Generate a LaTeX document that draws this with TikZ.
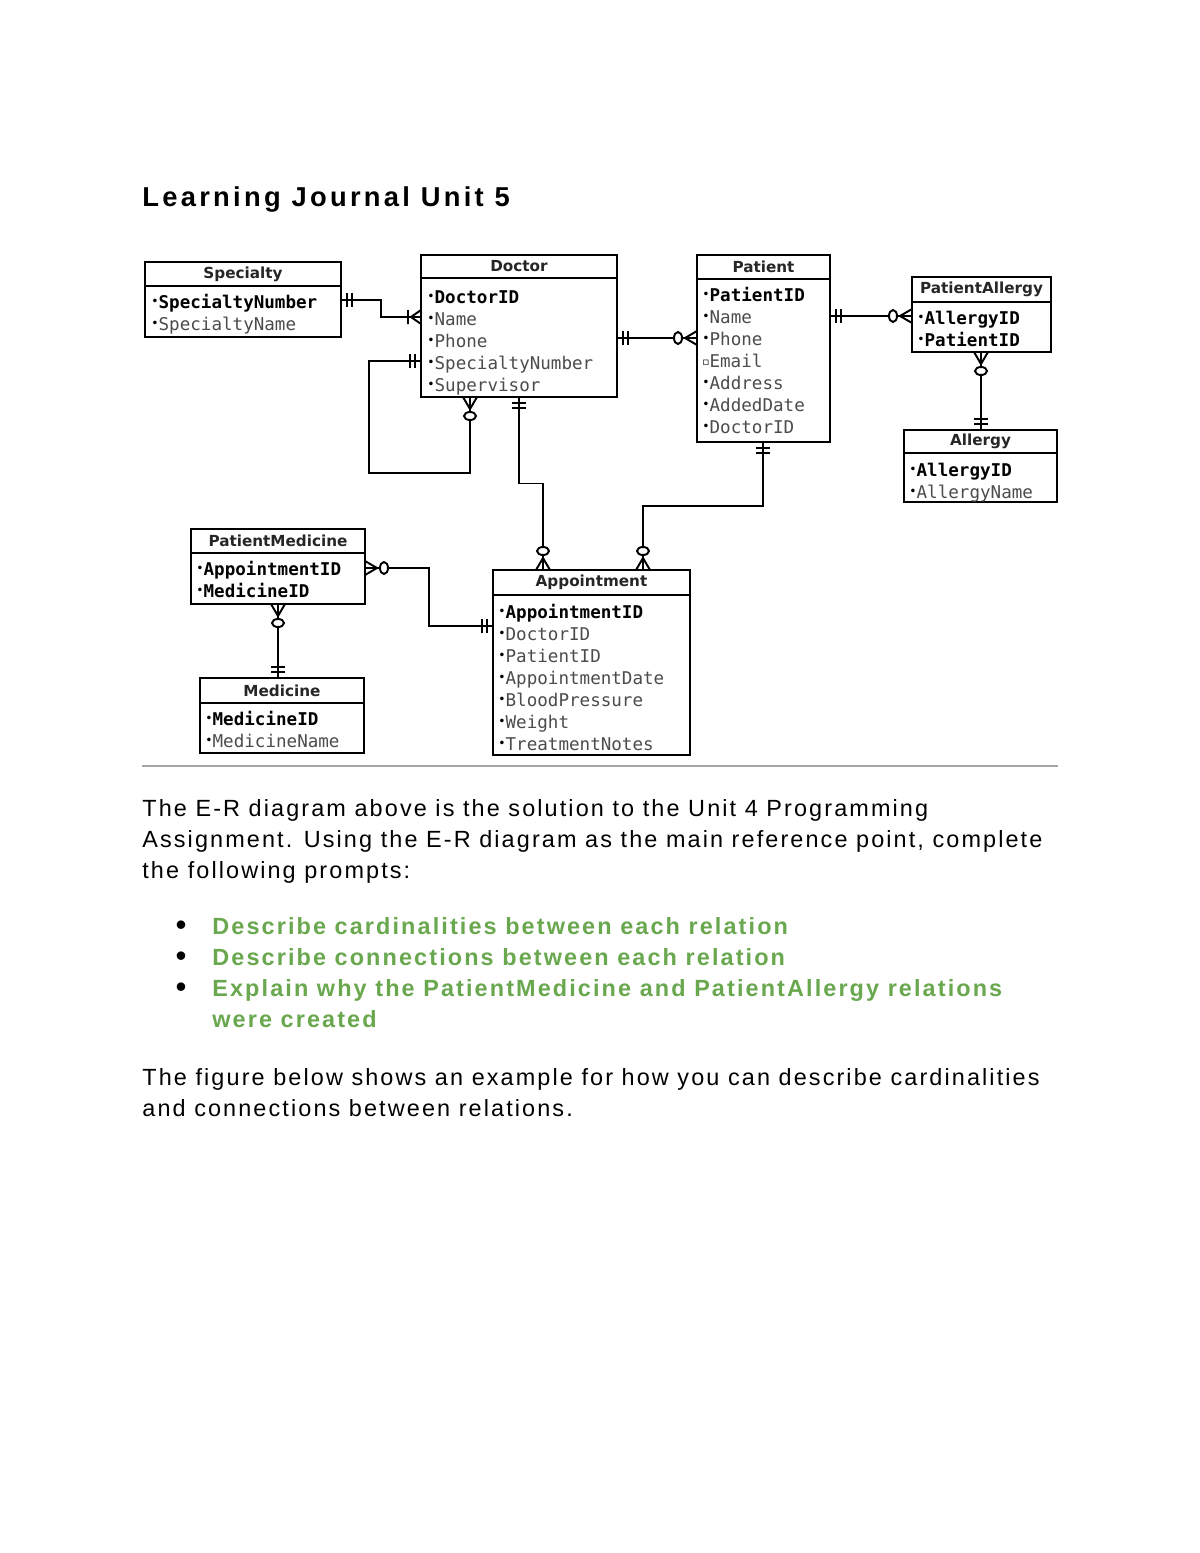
\documentclass[tikz,border=0pt]{standalone}
\usepackage{fontspec}
\setmainfont{Liberation Sans}
\newfontfamily\attrfont{DejaVu Sans Mono}
\newfontfamily\headfont{DejaVu Sans}
\usepackage{xcolor}
\usetikzlibrary{positioning, calc}

\definecolor{taskgreen}{HTML}{6AA84F}
\newcommand{\px}{0.018cm}
\newcommand{\kb}{\raisebox{.3ex}{\scalebox{.7}{\headfont •}}}
\newcommand{\ob}{\raisebox{.25ex}{\scalebox{.6}{\headfont ▫}}}
\newcommand{\erkey}[1]{\kb\textbf{#1}}
\newcommand{\erattr}[1]{\kb{\color{black!70}#1}}

\begin{document}
\begin{tikzpicture}[x=\px, y=-\px,
  ehead/.style={draw, line width=1.2pt, anchor=north west, inner sep=0pt, outer sep=0pt, minimum height=24*\px, font=\headfont\bfseries\fontsize{7.8}{9}\selectfont, text=black!85},
  ebody/.style={draw, line width=1.2pt, anchor=north west, inner sep=0pt, outer sep=0pt},
  eattr/.style={anchor=north west, inner sep=0pt, align=left, font=\attrfont\fontsize{9}{11.25}\selectfont},
  rel/.style={line width=1pt},
  para/.style={anchor=north west, inner sep=0pt, align=left, font=\fontsize{12}{15.9}\selectfont\addfontfeatures{LetterSpace=9}},
  task/.style={para, font=\bfseries\fontsize{12}{15.9}\selectfont\addfontfeatures{LetterSpace=9}, text=taskgreen},
  bul/.style={anchor=base, inner sep=0pt, font=\fontsize{16}{15.9}\selectfont},
  mkone/.pic={\draw[rel] (6,-7) -- (6,7) (11,-7) -- (11,7);},
  mkonemany/.pic={\draw[rel] (0,-7) -- (10,0) -- (0,7) (13,-7) -- (13,7);},
  mkzeromany/.pic={\draw[rel] (0,-7) -- (12,0) -- (0,7); \draw[rel, fill=white] (19,0) ellipse [x radius=4, y radius=6];}
]
  \path[use as bounding box, fill=white] (0,0) rectangle (1200,1553);

  % heading
  \node[anchor=base west, inner sep=0pt, font=\bfseries\fontsize{14}{17}\selectfont\addfontfeatures{LetterSpace=12}] (title) at (142,206) {Learning Journal Unit 5};

  % entities
  \node[ehead, minimum width=196*\px] (spech) at (145,262) {Specialty};
  \node[ebody, minimum width=196*\px, minimum height=51*\px] (specb) at (spech.south west) {};
  \node[eattr] (speca) at ($(specb.north west)+(6,8)$) {\erkey{SpecialtyNumber}\\\erattr{SpecialtyName}};

  \node[ehead, minimum width=196*\px, minimum height=23*\px] (doch) at (421,255) {Doctor};
  \node[ebody, minimum width=196*\px, minimum height=119*\px] (docb) at (doch.south west) {};
  \node[eattr] (doca) at ($(docb.north west)+(6,12)$) {\erkey{DoctorID}\\\erattr{Name}\\\erattr{Phone}\\\erattr{SpecialtyNumber}\\\erattr{Supervisor}};

  \node[ehead, minimum width=133*\px] (path) at (697,255) {Patient};
  \node[ebody, minimum width=133*\px, minimum height=163*\px] (patb) at (path.south west) {};
  \node[eattr] (pata) at ($(patb.north west)+(5,8)$) {\erkey{PatientID}\\\erattr{Name}\\\erattr{Phone}\\\ob{\color{black!70}Email}\\\erattr{Address}\\\erattr{AddedDate}\\\erattr{DoctorID}};

  \node[ehead, minimum width=139*\px, minimum height=25*\px] (pah) at (912,277) {PatientAllergy};
  \node[ebody, minimum width=139*\px, minimum height=50*\px] (pab) at (pah.south west) {};
  \node[eattr] (paa) at ($(pab.north west)+(5,9)$) {\erkey{AllergyID}\\\erkey{PatientID}};

  \node[ehead, minimum width=153*\px, minimum height=23*\px] (alh) at (904,430) {Allergy};
  \node[ebody, minimum width=153*\px, minimum height=49*\px] (alb) at (alh.south west) {};
  \node[eattr] (ala) at ($(alb.north west)+(5,10)$) {\erkey{AllergyID}\\\erattr{AllergyName}};

  \node[ehead, minimum width=174*\px] (pmh) at (191,529) {PatientMedicine};
  \node[ebody, minimum width=174*\px, minimum height=51*\px] (pmb) at (pmh.south west) {};
  \node[eattr] (pma) at ($(pmb.north west)+(5,8)$) {\erkey{AppointmentID}\\\erkey{MedicineID}};

  \node[ehead, minimum width=164*\px, minimum height=25*\px] (medh) at (200,678) {Medicine};
  \node[ebody, minimum width=164*\px, minimum height=50*\px] (medb) at (medh.south west) {};
  \node[eattr] (meda) at ($(medb.north west)+(5,8)$) {\erkey{MedicineID}\\\erattr{MedicineName}};

  \node[ehead, minimum width=197*\px, minimum height=25*\px] (apph) at (493,570) {Appointment};
  \node[ebody, minimum width=197*\px, minimum height=160*\px] (appb) at (apph.south west) {};
  \node[eattr] (appa) at ($(appb.north west)+(5,9)$) {\erkey{AppointmentID}\\\erattr{DoctorID}\\\erattr{PatientID}\\\erattr{AppointmentDate}\\\erattr{BloodPressure}\\\erattr{Weight}\\\erattr{TreatmentNotes}};

  % attach points
  \coordinate (spec-doc) at ($(specb.north east)+(0,14)$);
  \coordinate (doc-spec) at ($(docb.north west)+(0,39)$);
  \coordinate (doc-sup) at ($(docb.north west)+(0,83)$);
  \coordinate (sup-doc) at ($(docb.south west)+(49,0)$);
  \coordinate (doc-app) at ($(docb.south west)+(98,0)$);
  \coordinate (app-doc) at ($(apph.north west)+(50,0)$);
  \coordinate (doc-pat) at ($(docb.north east)+(0,60)$);
  \coordinate (pat-doc) at ($(patb.north west)+(0,59)$);
  \coordinate (pat-pa) at ($(patb.north east)+(0,37)$);
  \coordinate (pa-pat) at ($(pab.north west)+(0,14)$);
  \coordinate (pa-al) at ($(pab.south west)+(69,0)$);
  \coordinate (al-pa) at ($(alh.north west)+(77,0)$);
  \coordinate (pat-app) at ($(patb.south west)+(66,0)$);
  \coordinate (app-pat) at ($(apph.north west)+(150,0)$);
  \coordinate (pm-app) at ($(pmb.north east)+(0,15)$);
  \coordinate (app-pm) at ($(appb.north west)+(0,31)$);
  \coordinate (pm-med) at ($(pmb.south west)+(87,0)$);
  \coordinate (med-pm) at ($(medh.north west)+(78,0)$);

  % relationships
  \draw[rel] (spec-doc) -| ($(spec-doc)!0.5!(doc-spec)$) |- (doc-spec);
  \draw[rel] (doc-sup) -- ++(-52,0) -- ++(0,112) -| (sup-doc);
  \draw[rel] (doc-app) |- ($(doc-app)!0.5!(app-doc)$) -| (app-doc);
  \draw[rel] (doc-pat) -- (pat-doc);
  \draw[rel] (pat-pa) -- (pa-pat);
  \draw[rel] (pa-al) -- (al-pa);
  \draw[rel] (pat-app) |- ($(pat-app)!0.5!(app-pat)$) -| (app-pat);
  \draw[rel] (pm-app) -| ($(pm-app)!0.5!(app-pm)$) |- (app-pm);
  \draw[rel] (pm-med) -- (med-pm);

  % cardinality marks
  \pic at (spec-doc) {mkone};
  \pic[rotate=180] at (doc-spec) {mkonemany};
  \pic[rotate=180] at (doc-sup) {mkone};
  \pic[rotate=-90] at (sup-doc) {mkzeromany};
  \pic[rotate=-90] at (doc-app) {mkone};
  \pic[rotate=90] at (app-doc) {mkzeromany};
  \pic at (doc-pat) {mkone};
  \pic[rotate=180] at (pat-doc) {mkzeromany};
  \pic at (pat-pa) {mkone};
  \pic[rotate=180] at (pa-pat) {mkzeromany};
  \pic[rotate=-90] at (pa-al) {mkzeromany};
  \pic[rotate=90] at (al-pa) {mkone};
  \pic[rotate=-90] at (pat-app) {mkone};
  \pic[rotate=90] at (app-pat) {mkzeromany};
  \pic at (pm-app) {mkzeromany};
  \pic[rotate=180] at (app-pm) {mkone};
  \pic[rotate=-90] at (pm-med) {mkzeromany};
  \pic[rotate=90] at (med-pm) {mkone};

  % separator
  \draw[black!35, line width=1pt] (142,766) -- (1058,766);

  % prompt text
  \node[para] (intro) at (142,799) {The E-R diagram above is the solution to the Unit 4 Programming\\Assignment. Using the E-R diagram as the main reference point, complete\\the following prompts:};
  \node[task] (task1) at (212,917) {Describe cardinalities between each relation};
  \node[task] (task2) at (212,948) {Describe connections between each relation};
  \node[task] (task3) at (212,979) {Explain why the PatientMedicine and PatientAllergy relations\\were created};
  \node[bul] (bul1) at ($(task1.north west)+(-31,18)$) {\textbullet};
  \node[bul] (bul2) at ($(task2.north west)+(-31,18)$) {\textbullet};
  \node[bul] (bul3) at ($(task3.north west)+(-31,18)$) {\textbullet};
  \node[para] (outro) at (142,1068) {The figure below shows an example for how you can describe cardinalities\\and connections between relations.};
\end{tikzpicture}
\end{document}
